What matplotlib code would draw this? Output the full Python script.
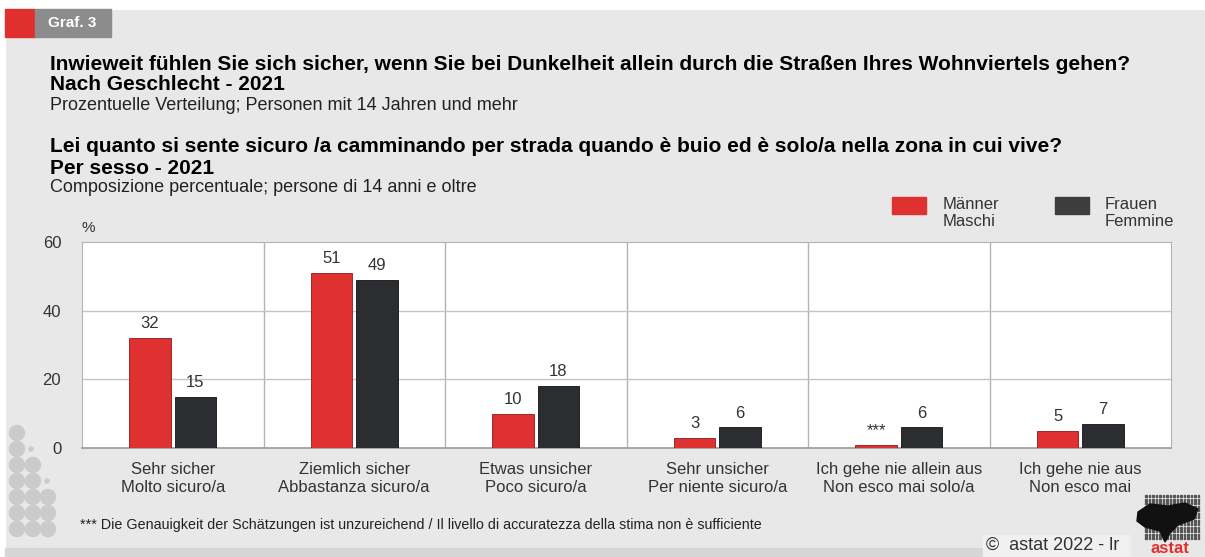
import numpy as np
import matplotlib.pyplot as plt
from matplotlib.patches import Rectangle, Circle, Polygon
from matplotlib.transforms import IdentityTransform

# data
categories = ['Sehr sicher\nMolto sicuro/a', 'Ziemlich sicher\nAbbastanza sicuro/a',
              'Etwas unsicher\nPoco sicuro/a', 'Sehr unsicher\nPer niente sicuro/a',
              'Ich gehe nie allein aus\nNon esco mai solo/a', 'Ich gehe nie aus\nNon esco mai']
maenner = [32, 51, 10, 3, 1, 5]
frauen = [15, 49, 18, 6, 6, 7]
maenner_labels = ['32', '51', '10', '3', '***', '5']
frauen_labels = ['15', '49', '18', '6', '6', '7']
yticks = [0, 20, 40, 60]

RED = '#e03131'
DARK = '#2b2d31'
BG = '#e8e8e8'
W, H = 1205, 557

plt.rcParams['font.family'] = ['Liberation Sans', 'DejaVu Sans']

def fx(px):
    return px / W

def fy(py):
    return 1 - py / H

fig = plt.figure(figsize=(W / 100, H / 100), dpi=100)
fig.patch.set_facecolor(BG)

# frame bits: white margins, header tab, bottom strip
fig.patches.append(Rectangle((0, fy(9)), 1, 9 / H, transform=fig.transFigure, color='white', zorder=0))
fig.patches.append(Rectangle((0, 0), fx(5), 1, transform=fig.transFigure, color='white', zorder=0))
fig.patches.append(Rectangle((fx(5), fy(37)), fx(30), 28 / H, transform=fig.transFigure, color='#e0302e', zorder=1))
fig.patches.append(Rectangle((fx(35), fy(37)), fx(76), 28 / H, transform=fig.transFigure, color='#8c8c8c', zorder=1))
fig.text(fx(48), fy(23), 'Graf. 3', color='white', fontsize=11, fontweight='bold', va='center')
fig.patches.append(Rectangle((fx(5), 0), fx(978), 9 / H, transform=fig.transFigure, color='#d6d6d6', zorder=0))

# titles
fig.text(fx(50), fy(64), 'Inwieweit fühlen Sie sich sicher, wenn Sie bei Dunkelheit allein durch die Straßen Ihres Wohnviertels gehen?',
         fontsize=15, fontweight='bold', va='center')
fig.text(fx(50), fy(85), 'Nach Geschlecht - 2021', fontsize=15, fontweight='bold', va='center')
fig.text(fx(50), fy(105), 'Prozentuelle Verteilung; Personen mit 14 Jahren und mehr', fontsize=13, va='center', color='#222222')
fig.text(fx(50), fy(147), 'Lei quanto si sente sicuro /a camminando per strada quando è buio ed è solo/a nella zona in cui vive?',
         fontsize=15, fontweight='bold', va='center')
fig.text(fx(50), fy(168), 'Per sesso - 2021', fontsize=15, fontweight='bold', va='center')
fig.text(fx(50), fy(188), 'Composizione percentuale; persone di 14 anni e oltre', fontsize=13, va='center', color='#222222')

# legend
fig.patches.append(Rectangle((fx(892), fy(214)), fx(34), 17 / H, transform=fig.transFigure, color=RED))
fig.text(fx(943), fy(213), 'Männer\nMaschi', fontsize=12, va='center', color='#333333', linespacing=1.1)
fig.patches.append(Rectangle((fx(1055), fy(214)), fx(34), 17 / H, transform=fig.transFigure, color='#3d3d40'))
fig.text(fx(1105), fy(213), 'Frauen\nFemmine', fontsize=12, va='center', color='#333333', linespacing=1.1)

# decorative dots on the left (pixel coordinates)
dots = [(17, 433, 7.5), (17, 449, 7.5), (31, 449, 2), (17, 465, 7.5), (33, 465, 7.5), (17, 481, 7.5), (33, 481, 7.5),
        (47, 481, 2), (17, 497, 7.5), (33, 497, 7.5), (48, 497, 7.5), (17, 513, 7.5), (33, 513, 7.5), (48, 513, 7.5),
        (17, 529, 7.5), (33, 529, 7.5), (48, 529, 7.5)]
for cx, cy, r in dots:
    fig.patches.append(Circle((cx, H - cy), r, transform=IdentityTransform(), color='#cbcbcb', zorder=1))

ax = fig.add_axes([fx(82), fy(448), fx(1171) - fx(82), fy(242) - fy(448)])
ax.set_facecolor('white')
x = np.arange(len(categories))
w = 0.23
ax.bar(x - 0.125, maenner, w, color=RED, edgecolor='#8a1a1a', linewidth=0.6, zorder=3)
ax.bar(x + 0.125, frauen, w, color=DARK, edgecolor='#111111', linewidth=0.6, zorder=3)

for i in range(len(categories)):
    ax.text(x[i] - 0.125, maenner[i] + 2, maenner_labels[i], ha='center', va='bottom', fontsize=12, color='#333333')
    ax.text(x[i] + 0.125, frauen[i] + 2, frauen_labels[i], ha='center', va='bottom', fontsize=12, color='#333333')

ax.set_xlim(-0.5, len(categories) - 0.5)
ax.set_ylim(0, 60)
for s in np.arange(0.5, len(categories) - 0.5, 1):
    ax.axvline(s, color='#b3b3b3', linewidth=1, zorder=1)
for t in [20, 40]:
    ax.axhline(t, color='#c4c4c4', linewidth=1, zorder=1)
for side in ['top', 'left', 'right']:
    ax.spines[side].set_color('#b3b3b3')
ax.spines['bottom'].set_color('#9a9a9a')
ax.spines['bottom'].set_linewidth(1.2)

ax.set_yticks(yticks)
ax.set_yticklabels([str(t) for t in yticks], fontsize=12, color='#333333')
ax.set_xticks(x)
ax.set_xticklabels(categories, fontsize=12, color='#333333', linespacing=1.3)
ax.tick_params(axis='both', length=0)
ax.tick_params(axis='y', pad=15)
ax.tick_params(axis='x', pad=10)
fig.text(fx(82), fy(228), '%', fontsize=11, va='center', color='#333333')

# footnote and source
fig.text(fx(80), fy(525), '*** Die Genauigkeit der Schätzungen ist unzureichend / Il livello di accuratezza della stima non è sufficiente',
         fontsize=10.3, va='center', color='#222222')
fig.patches.append(Rectangle((fx(983), 0), fx(147), 22 / H, transform=fig.transFigure, color='#f0f0f0', zorder=0))
fig.text(fx(986), fy(545), '©  astat 2022 - lr', fontsize=13, va='center', color='#333333')

# logo approximation
for gx in np.arange(1145, 1200, 3.5):
    for gy in np.arange(497, 542, 3.5):
        fig.patches.append(Rectangle((fx(gx), fy(gy)), 1.6 / W, 1.6 / H, transform=fig.transFigure,
                                     color='#555555', zorder=2))
blob = [(1138, 512), (1150, 504), (1168, 506), (1185, 503), (1198, 509), (1194, 519),
        (1178, 525), (1170, 533), (1165, 542), (1160, 531), (1145, 527), (1137, 521)]
fig.patches.append(Polygon([(fx(px), fy(py)) for px, py in blob], closed=True, transform=fig.transFigure,
                           color='#111111', zorder=3))
fig.text(fx(1170), fy(556), 'astat', fontsize=12, fontweight='bold', color='#e0302e', ha='center', va='bottom')

fig.savefig('out.png', dpi=100, facecolor=fig.get_facecolor())
